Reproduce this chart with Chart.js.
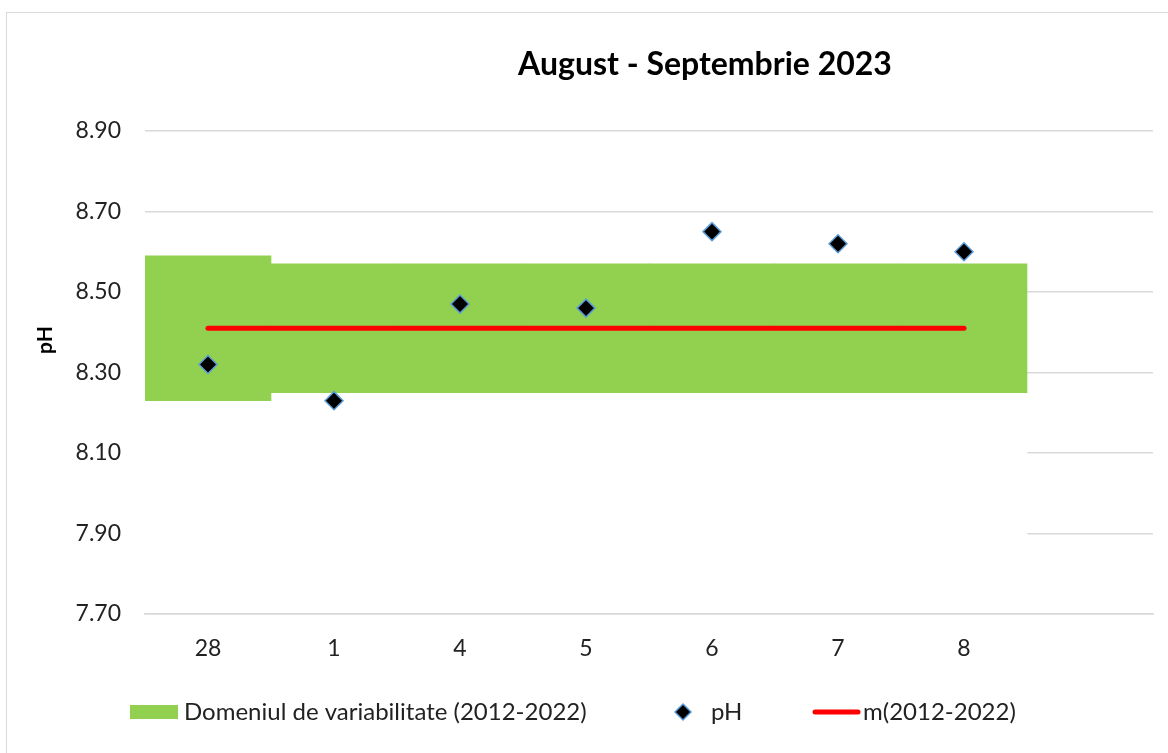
<!DOCTYPE html>
<html>
<head>
<meta charset="utf-8">
<script src="https://cdn.jsdelivr.net/npm/chart.js@4.4.0/dist/chart.umd.min.js"></script>
<style>
  html, body { margin: 0; padding: 0; background: #fff; overflow: hidden; }
  #wrap { position: relative; width: 1168px; height: 753px; }
  #frame { position: absolute; left: 6px; top: 12px; width: 1200px; height: 800px; border: 1.5px solid #d9d9d9; box-sizing: border-box; pointer-events: none; }
  canvas { position: absolute; left: 0; top: 0; }
</style>
</head>
<body>
<div id="wrap">
  <canvas id="chart" width="1168" height="753"></canvas>
  <div id="frame"></div>
</div>
<script>
// ===== DATE =====
const zile = ['28', '1', '4', '5', '6', '7', '8', ''];
const phValori = [8.32, 8.23, 8.47, 8.46, 8.65, 8.62, 8.60, null];
const domeniuMin = [8.23, 8.25, 8.25, 8.25, 8.25, 8.25, 8.25, null];
const domeniuMax = [8.59, 8.57, 8.57, 8.57, 8.57, 8.57, 8.57, null];
const medie = [8.41, 8.41, 8.41, 8.41, 8.41, 8.41, 8.41, null];
const axaMin = 7.70;
const axaMax = 8.90;
const pas = 0.20;

const titlu = 'August - Septembrie 2023';
const titluAxaY = 'pH';
const FONT = 'Lato, "Open Sans", sans-serif';

// banda alba sub domeniu (ascunde liniile de grila, ca in Excel)
const fundal = domeniuMin.map(v => v === null ? null : [axaMin, v]);
const domeniu = domeniuMin.map((v, i) => v === null ? null : [v, domeniuMax[i]]);

// ===== PLUGIN-URI =====
const titluPlugin = {
    id: 'titluPlugin',
    afterDraw(chart) {
        const ctx = chart.ctx;
        ctx.save();
        ctx.font = `bold 32px ${FONT}`;
        ctx.fillStyle = '#000';
        ctx.textAlign = 'center';
        ctx.textBaseline = 'middle';
        ctx.fillText(titlu, 705, 65);

        // titlul axei Y (pus mai sus decat centrul, ca in original)
        ctx.translate(45, 340);
        ctx.rotate(-Math.PI / 2);
        ctx.font = `bold 21px ${FONT}`;
        ctx.fillText(titluAxaY, 0, 0);
        ctx.restore();
    }
};

const legendaPlugin = {
    id: 'legendaPlugin',
    afterDraw(chart) {
        const ctx = chart.ctx;
        const ds = chart.data.datasets;
        const y = 712;
        ctx.save();
        ctx.font = `24px ${FONT}`;
        ctx.textBaseline = 'middle';

        // domeniu
        ctx.fillStyle = ds[1].backgroundColor;
        ctx.fillRect(130, y - 7, 48, 14);
        ctx.fillStyle = '#222';
        ctx.fillText(ds[1].label, 184, y);

        // pH
        ctx.beginPath();
        ctx.moveTo(683, y - 8);
        ctx.lineTo(691, y);
        ctx.lineTo(683, y + 8);
        ctx.lineTo(675, y);
        ctx.closePath();
        ctx.fillStyle = '#000';
        ctx.fill();
        ctx.strokeStyle = ds[3].pointBorderColor;
        ctx.lineWidth = 1.5;
        ctx.stroke();
        ctx.fillStyle = '#222';
        ctx.fillText(ds[3].label, 711, y);

        // medie
        ctx.strokeStyle = ds[2].borderColor;
        ctx.lineWidth = 5;
        ctx.lineCap = 'round';
        ctx.beginPath();
        ctx.moveTo(815, y);
        ctx.lineTo(858, y);
        ctx.stroke();
        ctx.fillText(ds[2].label, 863, y);
        ctx.restore();
    }
};

// ===== GRAFIC =====
const ctx = document.getElementById('chart');
new Chart(ctx, {
    type: 'bar',
    data: {
        labels: zile,
        datasets: [
            {
                label: 'fundal',
                data: fundal,
                backgroundColor: '#ffffff',
                grouped: false,
                barPercentage: 1,
                categoryPercentage: 1,
                order: 4
            },
            {
                label: 'Domeniul de variabilitate (2012-2022)',
                data: domeniu,
                backgroundColor: '#92d050',
                grouped: false,
                barPercentage: 1,
                categoryPercentage: 1,
                order: 3
            },
            {
                type: 'line',
                label: 'm(2012-2022)',
                data: medie,
                borderColor: '#ff0000',
                borderWidth: 5,
                borderCapStyle: 'round',
                pointRadius: 0,
                fill: false,
                order: 2
            },
            {
                type: 'line',
                label: 'pH',
                data: phValori,
                showLine: false,
                pointStyle: 'rectRot',
                pointRadius: 9,
                pointBackgroundColor: '#000000',
                pointBorderColor: '#5b9bd5',
                pointBorderWidth: 1.5,
                order: 1
            }
        ]
    },
    options: {
        responsive: false,
        animation: false,
        layout: { padding: { left: 20, right: 15, top: 131, bottom: 79 } },
        plugins: {
            legend: { display: false },
            tooltip: { enabled: false },
            title: { display: false }
        },
        scales: {
            x: {
                grid: { display: false, drawTicks: false },
                border: { display: true, color: '#d9d9d9', width: 1.5, z: 1 },
                ticks: { color: '#222', font: { family: FONT, size: 23 }, padding: 21 },
                afterFit: (scale) => { scale.height = 60; }
            },
            y: {
                min: axaMin,
                max: axaMax,
                grid: { color: '#d9d9d9', lineWidth: 1.5, drawTicks: false },
                border: { display: false },
                ticks: {
                    stepSize: pas,
                    color: '#222',
                    font: { family: FONT, size: 23 },
                    padding: 24,
                    callback: (v) => Number(v).toFixed(2)
                },
                afterFit: (scale) => { scale.width = 125; }
            }
        }
    },
    plugins: [titluPlugin, legendaPlugin]
});
</script>
</body>
</html>
